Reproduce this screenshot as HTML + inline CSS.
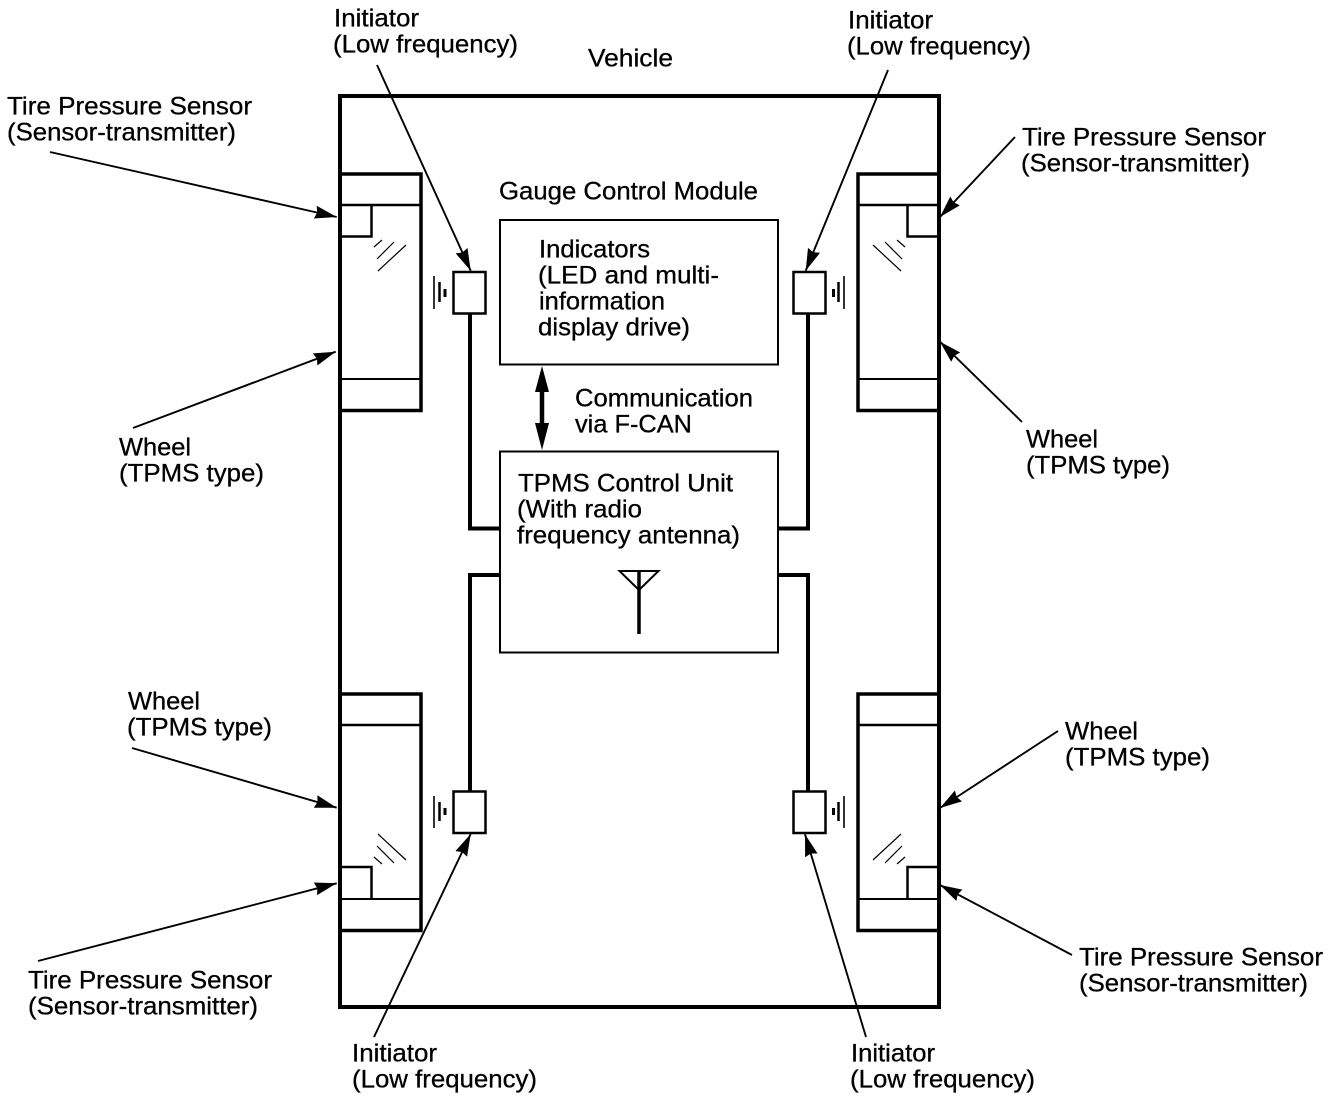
<!DOCTYPE html>
<html>
<head>
<meta charset="utf-8">
<style>
html,body{margin:0;padding:0;background:#fff;}
svg{display:block;}
text{font-family:"Liberation Sans",Arial,sans-serif;font-size:25px;fill:#000;stroke:#000;stroke-width:.3px;}
</style>
</head>
<body>
<svg width="1344" height="1104" viewBox="0 0 1344 1104" xmlns="http://www.w3.org/2000/svg">
<defs>
<marker id="a" markerUnits="userSpaceOnUse" markerWidth="24" markerHeight="14" refX="22" refY="7" orient="auto">
<path d="M0,0.5 L22,7 L0,13.5 L2,7 Z" fill="#000"/>
</marker>
</defs>
<rect width="1344" height="1104" fill="#fff"/>

<!-- body -->
<rect x="340" y="96" width="599" height="911" fill="none" stroke="#000" stroke-width="4"/>

<!-- wheels -->
<g fill="none" stroke="#000">
<!-- top-left -->
<path d="M340,174 H421 V410.5 H340" stroke-width="3.5"/>
<path d="M340,205 H421" stroke-width="2.5"/>
<path d="M340,236.5 H371.5 V205" stroke-width="2.5"/>
<path d="M340,379 H421" stroke-width="2"/>
<path d="M374,247 L382,240 M377,259 L394,242 M378,271 L406,245" stroke-width="1.2"/>
<!-- top-right -->
<path d="M939,174 H858 V410.5 H939" stroke-width="3.5"/>
<path d="M858,205 H939" stroke-width="2.5"/>
<path d="M939,236.5 H907.5 V205" stroke-width="2.5"/>
<path d="M858,379 H939" stroke-width="2"/>
<path d="M897,240 L905,247 M885,242 L902,259 M873,245 L901,271" stroke-width="1.2"/>
<!-- bottom-left -->
<path d="M340,694 H421 V930.5 H340" stroke-width="3.5"/>
<path d="M340,725 H421" stroke-width="2.5"/>
<path d="M340,867 H371.5 V899" stroke-width="2.5"/>
<path d="M340,899 H421" stroke-width="2"/>
<path d="M378,834 L406,860 M377,846 L394,863 M374,857 L382,864" stroke-width="1.2"/>
<!-- bottom-right -->
<path d="M939,694 H858 V930.5 H939" stroke-width="3.5"/>
<path d="M858,725 H939" stroke-width="2.5"/>
<path d="M939,867 H907.5 V899" stroke-width="2.5"/>
<path d="M858,899 H939" stroke-width="2"/>
<path d="M873,860 L901,834 M885,863 L902,846 M897,864 L905,857" stroke-width="1.2"/>
</g>

<!-- wires -->
<path d="M470,314 V528.5 H500 M808,314 V528.5 H778 M470,791 V575 H500 M808,791 V575 H778" fill="none" stroke="#000" stroke-width="4"/>

<!-- initiators -->
<g fill="#fff" stroke="#000" stroke-width="2.5">
<rect x="453.5" y="272" width="32" height="41.5"/>
<rect x="793.5" y="272" width="32" height="41.5"/>
<rect x="453.5" y="791.5" width="32" height="41.5"/>
<rect x="793.5" y="791.5" width="32" height="41.5"/>
</g>

<!-- ground symbols -->
<g stroke="#000" fill="none">
<path d="M434,276 V309 M844,276 V309 M434,796 V828 M844,796 V828" stroke-width="1.6"/>
<path d="M439.5,282 V302 M838.5,282 V302 M439.5,802 V821 M838.5,802 V821" stroke-width="2.5"/>
<path d="M445,289 V297 M833.5,289 V297 M445,808 V815 M833.5,808 V815" stroke-width="3"/>
</g>

<!-- central boxes -->
<rect x="500" y="220" width="278" height="144.5" fill="#fff" stroke="#000" stroke-width="2"/>
<rect x="500" y="451.5" width="278" height="201" fill="#fff" stroke="#000" stroke-width="2"/>

<!-- double arrow -->
<path d="M542,388 V426" stroke="#000" stroke-width="4.5" fill="none"/>
<path d="M542,366 L549,392 H535 Z M542,450 L549,423 H535 Z" fill="#000"/>

<!-- antenna -->
<path d="M619.5,571 H658.5 L639,590 Z" fill="none" stroke="#000" stroke-width="2"/>
<path d="M639,571 V634" stroke="#000" stroke-width="3.5" fill="none"/>

<!-- leader arrows -->
<g stroke="#000" stroke-width="1.9" fill="none">
<line x1="377" y1="65" x2="470.7" y2="270.7" marker-end="url(#a)"/>
<line x1="888" y1="70" x2="805.7" y2="270.7" marker-end="url(#a)"/>
<line x1="50" y1="152" x2="336.7" y2="217" marker-end="url(#a)"/>
<line x1="133" y1="428" x2="335.7" y2="351.7" marker-end="url(#a)"/>
<line x1="1015" y1="137" x2="940" y2="217" marker-end="url(#a)"/>
<line x1="1022" y1="422" x2="940" y2="341.7" marker-end="url(#a)"/>
<line x1="132" y1="748" x2="336.7" y2="807.7" marker-end="url(#a)"/>
<line x1="38" y1="961" x2="336.7" y2="883.3" marker-end="url(#a)"/>
<line x1="374" y1="1037" x2="470.7" y2="834" marker-end="url(#a)"/>
<line x1="866" y1="1037" x2="805" y2="834.3" marker-end="url(#a)"/>
<line x1="1058" y1="731" x2="940" y2="808" marker-end="url(#a)"/>
<line x1="1072" y1="955" x2="940" y2="885" marker-end="url(#a)"/>
</g>

<!-- labels -->
<g transform="translate(0,-0.6)">
<text lengthAdjust="spacingAndGlyphs" x="334" y="27" textLength="85">Initiator</text>
<text lengthAdjust="spacingAndGlyphs" x="333" y="53" textLength="185">(Low frequency)</text>
<text lengthAdjust="spacingAndGlyphs" x="588" y="67" textLength="85">Vehicle</text>
<text lengthAdjust="spacingAndGlyphs" x="848" y="29" textLength="85">Initiator</text>
<text lengthAdjust="spacingAndGlyphs" x="847" y="55" textLength="184">(Low frequency)</text>
<text lengthAdjust="spacingAndGlyphs" x="7" y="115" textLength="245">Tire Pressure Sensor</text>
<text lengthAdjust="spacingAndGlyphs" x="7" y="141" textLength="229">(Sensor-transmitter)</text>
<text lengthAdjust="spacingAndGlyphs" x="1022" y="146" textLength="244">Tire Pressure Sensor</text>
<text lengthAdjust="spacingAndGlyphs" x="1021" y="172" textLength="229">(Sensor-transmitter)</text>
<text lengthAdjust="spacingAndGlyphs" x="499" y="200" textLength="259">Gauge Control Module</text>
<text lengthAdjust="spacingAndGlyphs" x="539" y="258" textLength="111">Indicators</text>
<text lengthAdjust="spacingAndGlyphs" x="538" y="284" textLength="181">(LED and multi-</text>
<text lengthAdjust="spacingAndGlyphs" x="539" y="310" textLength="126">information</text>
<text lengthAdjust="spacingAndGlyphs" x="538" y="336" textLength="152">display drive)</text>
<text lengthAdjust="spacingAndGlyphs" x="575" y="407" textLength="178">Communication</text>
<text lengthAdjust="spacingAndGlyphs" x="575" y="433" textLength="117">via F-CAN</text>
<text lengthAdjust="spacingAndGlyphs" x="518" y="492" textLength="215">TPMS Control Unit</text>
<text lengthAdjust="spacingAndGlyphs" x="517" y="518" textLength="125">(With radio</text>
<text lengthAdjust="spacingAndGlyphs" x="517" y="544" textLength="223">frequency antenna)</text>
<text lengthAdjust="spacingAndGlyphs" x="119" y="456" textLength="72">Wheel</text>
<text lengthAdjust="spacingAndGlyphs" x="119" y="482" textLength="145">(TPMS type)</text>
<text lengthAdjust="spacingAndGlyphs" x="1026" y="448" textLength="72">Wheel</text>
<text lengthAdjust="spacingAndGlyphs" x="1026" y="474" textLength="144">(TPMS type)</text>
<text lengthAdjust="spacingAndGlyphs" x="128" y="710" textLength="72">Wheel</text>
<text lengthAdjust="spacingAndGlyphs" x="127" y="736" textLength="145">(TPMS type)</text>
<text lengthAdjust="spacingAndGlyphs" x="1065" y="740" textLength="73">Wheel</text>
<text lengthAdjust="spacingAndGlyphs" x="1065" y="766" textLength="145">(TPMS type)</text>
<text lengthAdjust="spacingAndGlyphs" x="28" y="989" textLength="244">Tire Pressure Sensor</text>
<text lengthAdjust="spacingAndGlyphs" x="28" y="1015" textLength="230">(Sensor-transmitter)</text>
<text lengthAdjust="spacingAndGlyphs" x="1079" y="966" textLength="244">Tire Pressure Sensor</text>
<text lengthAdjust="spacingAndGlyphs" x="1079" y="992" textLength="229">(Sensor-transmitter)</text>
<text lengthAdjust="spacingAndGlyphs" x="352" y="1062" textLength="85">Initiator</text>
<text lengthAdjust="spacingAndGlyphs" x="352" y="1088" textLength="185">(Low frequency)</text>
<text lengthAdjust="spacingAndGlyphs" x="851" y="1062" textLength="84">Initiator</text>
<text lengthAdjust="spacingAndGlyphs" x="850" y="1088" textLength="185">(Low frequency)</text>
</g>
</svg>
</body>
</html>
